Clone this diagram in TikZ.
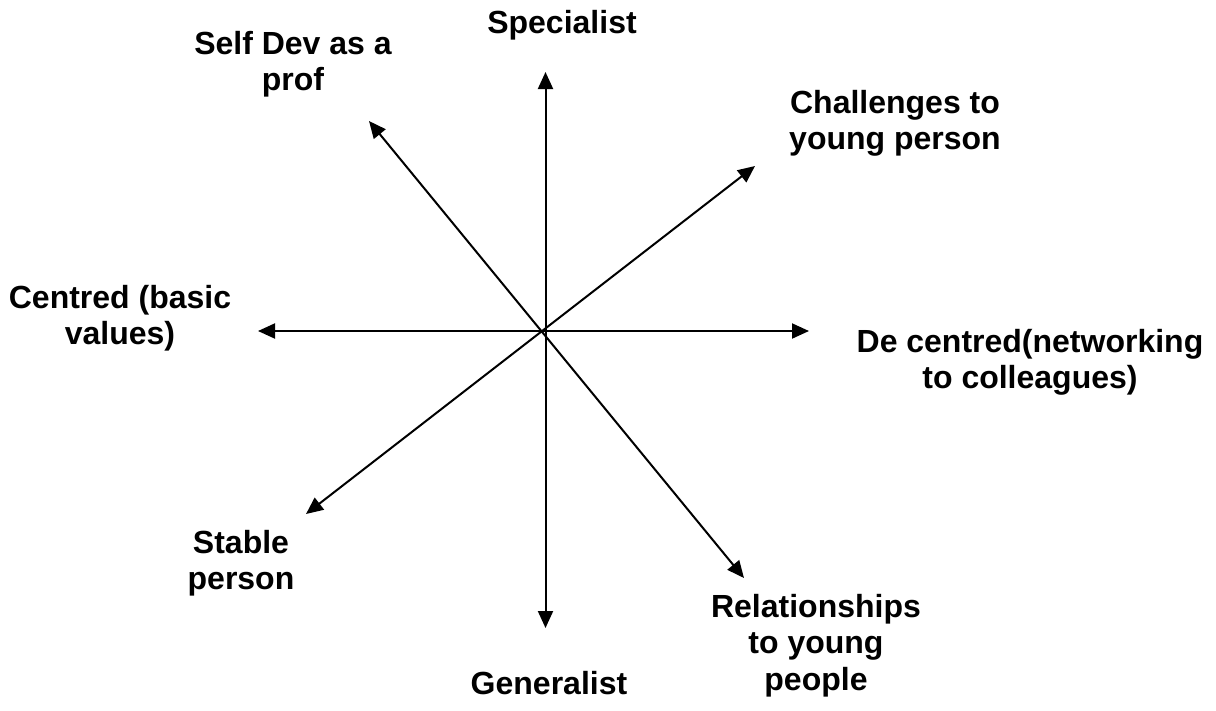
\documentclass[tikz,border=0pt]{standalone}
\usepackage{fontspec}
\setmainfont{Liberation Sans}
\usetikzlibrary{arrows.meta}
\tikzset{
  lbl/.style={font=\fontsize{32}{36.5}\selectfont\bfseries, align=center, inner sep=0pt, anchor=north},
  axis/.style={line width=2pt, {Triangle[length=17pt,width=15pt]}-{Triangle[length=17pt,width=15pt]}}
}
\begin{document}
\begin{tikzpicture}[x=1pt,y=-1pt]
\useasboundingbox[fill=white] (0,0) rectangle (1216,710);
% arrow tips
\coordinate (n) at (545.5,72);
\coordinate (s) at (545.5,628);
\coordinate (w) at (258,331);
\coordinate (e) at (809,331);
\coordinate (ne) at (755,166);
\coordinate (sw) at (306,514);
\coordinate (nw) at (369,121);
\coordinate (se) at (744,578);
\draw[axis] (n) -- (s);
\draw[axis] (w) -- (e);
\draw[axis] (ne) -- (sw);
\draw[axis] (nw) -- (se);
% labels
\node[lbl] (spec) at (562,8) {\strut Specialist};
\node[lbl] (self) at (293,28.5) {\strut Self Dev as a\\prof};
\node[lbl] (chal) at (895,87.5) {\strut Challenges to\\young person};
\node[lbl] (dec) at (1030,326.5) {\strut De centred(networking\\to colleagues)};
\node[lbl] (cen) at (120,282.5) {\strut Centred (basic\\values)};
\node[lbl] (stab) at (241,527.5) {\strut Stable\\person};
\node[lbl] (gen) at (549,668.5) {\strut Generalist};
\node[lbl] (rel) at (816,591.5) {\strut Relationships\\to young\\people};
\end{tikzpicture}
\end{document}
